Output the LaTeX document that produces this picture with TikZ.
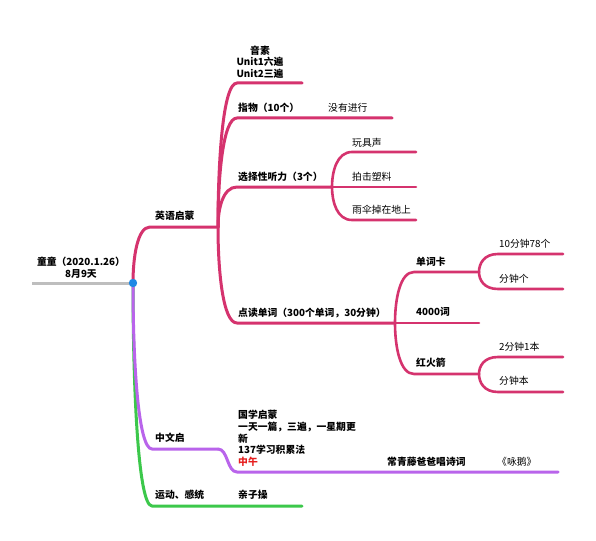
\documentclass[tikz,border=0pt]{standalone}
\usepackage{fontspec}
\setmainfont{Noto Sans CJK SC}
\usetikzlibrary{calc}
\definecolor{pk}{RGB}{213,51,110}
\definecolor{pu}{RGB}{185,100,235}
\definecolor{gr}{RGB}{60,200,75}
\definecolor{gy}{RGB}{190,190,190}
\definecolor{bl}{RGB}{30,136,229}
\definecolor{rd}{RGB}{230,30,30}
\newcommand{\brc}[4]{\draw[#1] (#2) .. controls ($(#2)!0.45!(#2|-#3)$) and ($(#2|-#3)!0.25!(#3)$) .. (#3) -- (#4);}
\begin{document}
\begin{tikzpicture}[x=1pt,y=-1pt,
  lbl/.style={inner sep=0pt, anchor=west, font=\fontsize{9.8}{11.7}\selectfont\bfseries},
  plain/.style={inner sep=0pt, anchor=west, font=\fontsize{9.8}{11.7}\selectfont},
  pkm/.style={draw=pk, line width=3pt, line cap=round, line join=round},
  pks/.style={draw=pk, line width=2.6pt, line cap=round, line join=round},
  pum/.style={draw=pu, line width=3pt, line cap=round, line join=round},
  grm/.style={draw=gr, line width=3pt, line cap=round, line join=round}]
\useasboundingbox[fill=white] (0,0) rectangle (596,540);
% coordinates
\coordinate (R) at (133,283); \coordinate (Rs) at (32,283);
\coordinate (E1) at (150,227); \coordinate (E2) at (218,227);
\coordinate (Y1) at (237,83); \coordinate (Y2) at (302,83);
\coordinate (Z1) at (237,118); \coordinate (Z2) at (392,118);
\coordinate (X1) at (237,187); \coordinate (X2) at (332,187);
\coordinate (W1) at (352,152); \coordinate (W2) at (416,152);
\coordinate (P1) at (352,187); \coordinate (P2) at (416,187);
\coordinate (U1) at (352,220); \coordinate (U2) at (416,220);
\coordinate (D1) at (237,323); \coordinate (D2) at (395,323);
\coordinate (K1) at (414,272); \coordinate (K2) at (479,272);
\coordinate (K11) at (498,254); \coordinate (K12) at (563,254);
\coordinate (K21) at (498,289); \coordinate (K22) at (563,289);
\coordinate (F1) at (414,323); \coordinate (F2) at (479,323);
\coordinate (H1) at (414,374); \coordinate (H2) at (479,374);
\coordinate (H11) at (498,357); \coordinate (H12) at (563,357);
\coordinate (H21) at (498,392); \coordinate (H22) at (563,392);
\coordinate (C1) at (152,449); \coordinate (C2) at (218,449);
\coordinate (C3) at (237,472); \coordinate (C4) at (558,472);
\coordinate (G1) at (152,506); \coordinate (G2) at (302,506);
% labels
\node[lbl, anchor=center, align=center] (root) at (81,268) {童童（2020.1.26）\\8月9天};
\node[lbl] (en) at (155,216) {英语启蒙};
\node[lbl, anchor=center, align=center] (yin) at (260,62) {音素\\Unit1六遍\\Unit2三遍};
\node[lbl] (zhi) at (238,108) {指物（10个）};
\node[plain] (mei) at (328,108) {没有进行};
\node[lbl] (xuan) at (238,177) {选择性听力（3个）};
\node[plain] (wan) at (352,143) {玩具声};
\node[plain] (pai) at (352,177) {拍击塑料};
\node[plain] (yu) at (352,210) {雨伞掉在地上};
\node[lbl] (dian) at (238,313) {点读单词（300个单词，30分钟）};
\node[lbl] (ka) at (416,262) {单词卡};
\node[plain] (k10) at (499,244) {10分钟78个};
\node[plain] (kge) at (499,279) {分钟个};
\node[lbl] (si) at (416,312) {4000词};
\node[lbl] (hong) at (416,363) {红火箭};
\node[plain] (h2) at (499,347) {2分钟1本};
\node[plain] (hben) at (499,381) {分钟本};
\node[lbl] (zw) at (155,438) {中文启};
\node[lbl, align=left] (guo) at (238,438.5) {国学启蒙\\一天一篇，三遍，一星期更\\新\\137学习积累法\\\textcolor{rd}{中午}};
\node[lbl] (chang) at (387,462) {常青藤爸爸唱诗词};
\node[plain] (yong) at (497,462) {《咏鹅》};
\node[lbl] (yd) at (155,495) {运动、感统};
\node[lbl] (qin) at (238,495) {亲子操};
% connectors
\draw[draw=gy, line width=3pt] (Rs) -- (R);
\brc{grm}{R}{G1}{G2}
\brc{pum}{R}{C1}{C2}
\draw[pum] (C2) .. controls (228,449) and (227,472) .. (C3) -- (C4);
\brc{pkm}{R}{E1}{E2}
\brc{pkm}{E2}{Y1}{Y2}
\brc{pkm}{E2}{Z1}{Z2}
\brc{pkm}{E2}{X1}{X2}
\brc{pkm}{E2}{D1}{D2}
\brc{pks}{X2}{W1}{W2}
\brc{pks}{X2}{P1}{P2}
\brc{pks}{X2}{U1}{U2}
\brc{pks}{D2}{K1}{K2}
\brc{pks}{D2}{F1}{F2}
\brc{pks}{D2}{H1}{H2}
\brc{pks}{K2}{K11}{K12}
\brc{pks}{K2}{K21}{K22}
\brc{pks}{H2}{H11}{H12}
\brc{pks}{H2}{H21}{H22}
\fill[bl] (R) circle (4.2);
\end{tikzpicture}
\end{document}
